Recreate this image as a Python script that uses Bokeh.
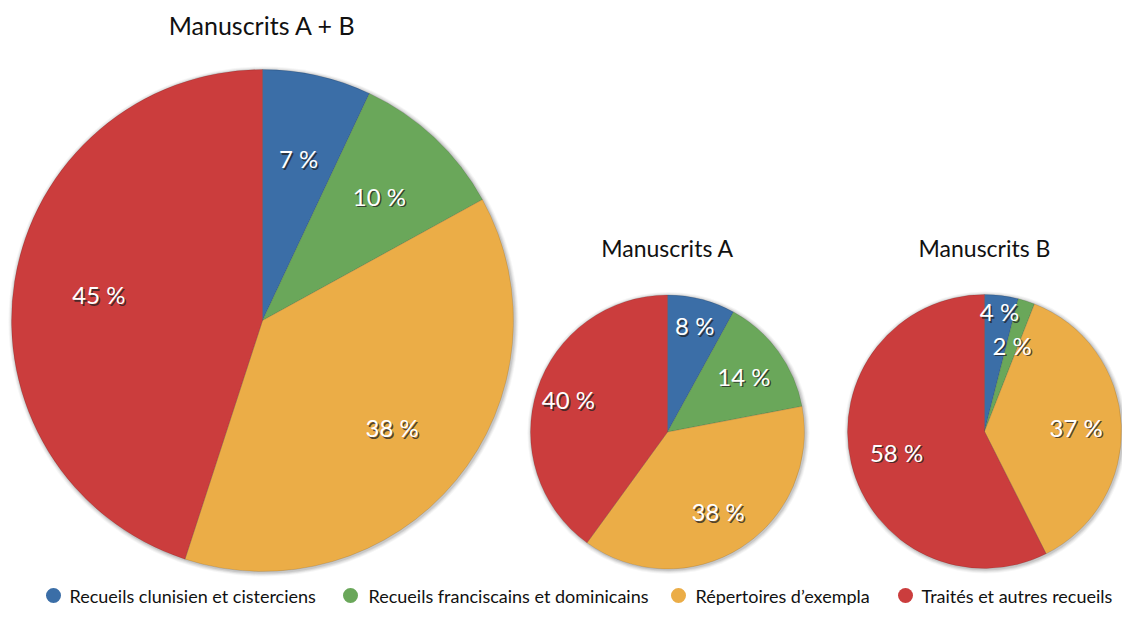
import math
from bokeh.plotting import figure
from bokeh.models import Range1d, ColumnDataSource
from bokeh.core.properties import value
from bokeh.embed import file_html
from bokeh.resources import INLINE

# ---- data ----
categories = ["Recueils clunisien et cisterciens", "Recueils franciscains et dominicains",
              "Répertoires d\u2019exempla", "Traités et autres recueils"]
colors = ["#3b6ea7", "#6aa75a", "#ebad47", "#cb3d3d"]
titles = ["Manuscrits A + B", "Manuscrits A", "Manuscrits B"]
values_ab = [7, 10, 38, 45]
values_a = [8, 14, 38, 40]
values_b = [4, 2, 37, 58]

W, H = 1122, 605
FONT = "Lato"


def Y(iy):
    return H - iy


p = figure(width=W, height=H, output_backend="svg", toolbar_location=None,
           x_range=Range1d(0, W), y_range=Range1d(0, H), min_border=0,
           background_fill_color="white", border_fill_color="white")
p.axis.visible = False
p.grid.visible = False
p.outline_line_color = None

# pie layout: (values, centre x, centre y, radius, label-distance factors, title y, title size)
pies = [
    (values_ab, 262, Y(320), 251, [0.66, 0.68, 0.67, 0.66], Y(24), "25px"),
    (values_a, 667, Y(431.5), 137, [0.80, 0.69, 0.69, 0.76], Y(247), "23px"),
    (values_b, 984, Y(431), 137, [0.88, 0.66, 0.67, 0.66], Y(247), "23px"),
]

for (vals, cx, cy, r, fac, ty, tsize), title in zip(pies, titles):
    total = float(sum(vals))
    # soft shadow
    for k, a in [(4, 0.05), (3, 0.07), (2, 0.10), (1, 0.14)]:
        p.circle(x=[cx + 1], y=[cy - 1], radius=r + k, radius_units="screen",
                 fill_color="#555555", fill_alpha=a, line_color=None)
    starts, ends, lx, ly, labs = [], [], [], [], []
    cum = 0.0
    for v, f in zip(vals, fac):
        a0 = cum / total * 2 * math.pi
        cum += v
        a1 = cum / total * 2 * math.pi
        starts.append(math.pi / 2 - a0)
        ends.append(math.pi / 2 - a1)
        mid = (a0 + a1) / 2
        lx.append(cx + f * r * math.sin(mid))
        ly.append(cy + f * r * math.cos(mid))
        labs.append(f"{v} %")
    src = ColumnDataSource(dict(start=starts, end=ends, color=colors,
                                x=[cx] * 4, y=[cy] * 4))
    p.wedge(x="x", y="y", radius=r, radius_units="screen", start_angle="start",
            end_angle="end", direction="clock", fill_color="color",
            line_color="#000000", line_alpha=0.12, line_width=1, source=src)
    lsrc = ColumnDataSource(dict(x=lx, y=ly, t=labs))
    p.text(x="x", y="y", text="t", source=lsrc, text_color="#222222", text_alpha=0.75,
           text_font=value(FONT), text_font_size="24px", text_align="center",
           text_baseline="middle", x_offset=1.5, y_offset=1.5)
    p.text(x="x", y="y", text="t", source=lsrc, text_color="white",
           text_font=value(FONT), text_font_size="24px", text_align="center",
           text_baseline="middle")
    p.text(x=[cx], y=[ty], text=[title], text_color="#111111", text_font=value(FONT),
           text_font_size=tsize, text_align="center", text_baseline="middle")

# legend
dot_x = [53, 350, 678, 905]
txt_x = [69, 368, 695, 921]
ly_leg = Y(595)
p.circle(x=dot_x, y=[ly_leg] * 4, radius=7.5, radius_units="screen",
         fill_color=colors, line_color=None)
p.text(x=txt_x, y=[ly_leg] * 4, text=categories, text_color="#111111",
       text_font=value(FONT), text_font_size="18px", text_align="left",
       text_baseline="middle")

open("out.html", "w").write(file_html(p, INLINE))
